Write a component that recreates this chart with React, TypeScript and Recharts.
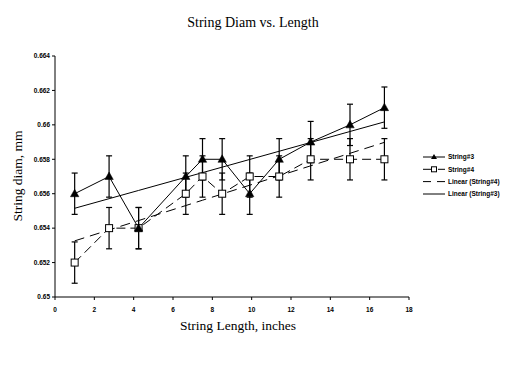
import React from 'react';
import { LineChart, Line, XAxis, YAxis, ErrorBar, Legend, Label } from 'recharts';

const lengths = [1, 2.75, 4.25, 6.65, 7.5, 8.5, 9.9, 11.4, 13, 15, 16.75];
const string3 = [0.656, 0.657, 0.654, 0.657, 0.658, 0.658, 0.656, 0.658, 0.659, 0.66, 0.661];
const string4 = [0.652, 0.654, 0.654, 0.656, 0.657, 0.656, 0.657, 0.657, 0.658, 0.658, 0.658];
const error3 = [0.0012, 0.0012, 0.0012, 0.0012, 0.0012, 0.0012, 0.0012, 0.0012, 0.0012, 0.0012, 0.0012];
const error4 = [0.0012, 0.0012, 0.0012, 0.0012, 0.0012, 0.0012, 0.0012, 0.0012, 0.0012, 0.0012, 0.0012];
const xTicks = [0, 2, 4, 6, 8, 10, 12, 14, 16, 18];
const yTicks = [0.65, 0.652, 0.654, 0.656, 0.658, 0.66, 0.662, 0.664];
const seriesNames = ['String#3', 'String#4', 'Linear (String#4)', 'Linear (String#3)'];
const title = 'String Diam vs. Length';
const xTitle = 'String Length, inches';
const yTitle = 'String diam, mm';

function fit(xs: number[], ys: number[]) {
  const n = xs.length;
  const mx = xs.reduce((a, b) => a + b, 0) / n;
  const my = ys.reduce((a, b) => a + b, 0) / n;
  let sxy = 0;
  let sxx = 0;
  for (let i = 0; i < n; i++) {
    sxy += (xs[i] - mx) * (ys[i] - my);
    sxx += (xs[i] - mx) * (xs[i] - mx);
  }
  const slope = sxy / sxx;
  return { slope, intercept: my - slope * mx };
}

const fit3 = fit(lengths, string3);
const fit4 = fit(lengths, string4);

const data = lengths.map((x, i) => ({
  x,
  s3: string3[i],
  s4: string4[i],
  e3: error3[i],
  e4: error4[i],
  t3: fit3.intercept + fit3.slope * x,
  t4: fit4.intercept + fit4.slope * x,
}));

const tickFont = { fontFamily: 'Liberation Sans, Arial, sans-serif', fontSize: 6.5, fontWeight: 700, fill: '#000' };
const serif = 'Liberation Serif, Times New Roman, serif';

const TriangleDot = (props: any) => {
  const { cx, cy, index } = props;
  if (cx == null || cy == null) return <g key={`t${index}`} />;
  return (
    <path
      key={`t${index}`}
      d={`M${cx},${cy - 4.5}L${cx + 4.2},${cy + 3}L${cx - 4.2},${cy + 3}Z`}
      fill="#000"
      stroke="#000"
      strokeWidth={0.5}
    />
  );
};

const SquareDot = (props: any) => {
  const { cx, cy, index } = props;
  if (cx == null || cy == null) return <g key={`s${index}`} />;
  return <rect key={`s${index}`} x={cx - 3.5} y={cy - 3.5} width={7} height={7} fill="#fff" stroke="#000" strokeWidth={1} />;
};

const renderLegend = () => {
  const rowY = [7, 19.3, 31.6, 44];
  return (
    <svg width={105} height={52} style={{ display: 'block' }}>
      {/* String#3 */}
      <line x1={3} y1={rowY[0]} x2={25} y2={rowY[0]} stroke="#000" strokeWidth={1} />
      <path d={`M14,${rowY[0] - 3}L17,${rowY[0] + 2}L11,${rowY[0] + 2}Z`} fill="#000" />
      {/* String#4 */}
      <line x1={3} y1={rowY[1]} x2={11} y2={rowY[1]} stroke="#000" strokeWidth={1} />
      <rect x={11.5} y={rowY[1] - 2.5} width={5} height={5} fill="#fff" stroke="#000" strokeWidth={1} />
      <line x1={18} y1={rowY[1]} x2={25} y2={rowY[1]} stroke="#000" strokeWidth={1} />
      {/* Linear (String#4) */}
      <line x1={3} y1={rowY[2]} x2={25} y2={rowY[2]} stroke="#000" strokeWidth={1} strokeDasharray="8 6" />
      {/* Linear (String#3) */}
      <line x1={3} y1={rowY[3]} x2={25} y2={rowY[3]} stroke="#000" strokeWidth={1} />
      {seriesNames.map((n, i) => (
        <text key={n} x={28} y={rowY[i] + 2.3} style={tickFont as any}>
          {n}
        </text>
      ))}
    </svg>
  );
};

export default function App() {
  return (
    <div style={{ position: 'absolute', left: 0, top: 0, width: 525, height: 375, background: '#fff' }}>
      <div
        style={{
          position: 'absolute',
          left: 0,
          top: 14,
          width: 506,
          textAlign: 'center',
          fontFamily: serif,
          fontSize: 14,
          lineHeight: '18px',
          color: '#000',
        }}
      >
        {title}
      </div>
      <LineChart width={525} height={375} data={data} margin={{ top: 56, right: 116, bottom: 48, left: 0 }}>
        <XAxis
          type="number"
          dataKey="x"
          domain={[0, 18]}
          ticks={xTicks}
          interval={0}
          height={30}
          tickSize={3}
          tickMargin={7}
          tick={tickFont}
          axisLine={{ stroke: '#000' }}
          tickLine={{ stroke: '#000' }}
        >
          <Label
            content={() => (
              <text x={238} y={330} textAnchor="middle" style={{ fontFamily: serif, fontSize: 13.5, fill: '#000' }}>
                {xTitle}
              </text>
            )}
          />
        </XAxis>
        <YAxis
          type="number"
          domain={[0.65, 0.664]}
          ticks={yTicks}
          interval={0}
          width={55}
          tickSize={3}
          tickMargin={2}
          tick={tickFont}
          tickFormatter={(v: number) => String(Number(v.toFixed(3)))}
          axisLine={{ stroke: '#000' }}
          tickLine={{ stroke: '#000' }}
        >
          <Label
            content={() => (
              <text
                x={19}
                y={176}
                textAnchor="middle"
                transform="rotate(-90 19 176)"
                dominantBaseline="middle"
                style={{ fontFamily: serif, fontSize: 13.5, fill: '#000' }}
              >
                {yTitle}
              </text>
            )}
          />
        </YAxis>
        <Legend
          content={renderLegend}
          layout="vertical"
          align="center"
          verticalAlign="middle"
          wrapperStyle={{ left: 420, top: 150, width: 105 }}
        />
        <Line
          type="linear"
          dataKey="t4"
          stroke="#000"
          strokeWidth={1}
          strokeDasharray="10 6"
          dot={false}
          activeDot={false}
          isAnimationActive={false}
          legendType="none"
        />
        <Line
          type="linear"
          dataKey="t3"
          stroke="#000"
          strokeWidth={1}
          dot={false}
          activeDot={false}
          isAnimationActive={false}
          legendType="none"
        />
        <Line
          type="linear"
          dataKey="s4"
          stroke="#000"
          strokeWidth={1}
          strokeDasharray="9 5"
          dot={SquareDot}
          activeDot={false}
          isAnimationActive={false}
        >
          <ErrorBar dataKey="e4" width={3} stroke="#000" strokeWidth={1.2} direction="y" isAnimationActive={false} />
        </Line>
        <Line
          type="linear"
          dataKey="s3"
          stroke="#000"
          strokeWidth={1}
          dot={TriangleDot}
          activeDot={false}
          isAnimationActive={false}
        >
          <ErrorBar dataKey="e3" width={3} stroke="#000" strokeWidth={1.2} direction="y" isAnimationActive={false} />
        </Line>
      </LineChart>
    </div>
  );
}
